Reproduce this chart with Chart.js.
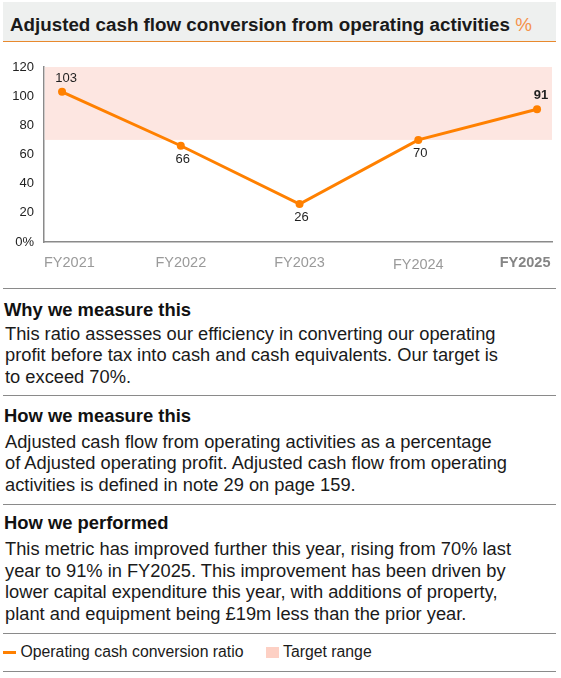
<!DOCTYPE html>
<html>
<head>
<meta charset="utf-8">
<script src="https://cdn.jsdelivr.net/npm/chart.js@4.4.1/dist/chart.umd.min.js"></script>
<style>
  html, body { margin: 0; padding: 0; background: #fff; }
  body { width: 561px; height: 678px; position: relative; overflow: hidden;
         font-family: "Liberation Sans", Arial, Helvetica, sans-serif; color: #1a1a1a; }
  .abs { position: absolute; }
  #titlebar { left: 3px; top: 2px; width: 553px; height: 39px; background: #eef0ef;
              border-bottom: 1.5px solid #e8892e; }
  #title { left: 10px; top: 15.4px; font-size: 18.8px; font-weight: bold; line-height: 20px; white-space: nowrap; }
  #title .pct { color: #f5924a; font-weight: normal; }
  .sep { left: 3px; width: 553px; height: 0; border-top: 1.2px solid #8a8a8a; }
  .head { left: 4px; font-size: 18.4px; font-weight: bold; line-height: 21.3px; white-space: nowrap; color: #111; }
  .bodytxt { left: 5px; font-size: 18.3px; line-height: 21.3px; white-space: nowrap; color: #1a1a1a; }
  #legend { left: 3px; top: 643px; font-size: 15.8px; line-height: 18px; white-space: nowrap; color: #1a1a1a; }
  .ldash { position: absolute; left: 0px; top: 8px; width: 13px; height: 3px; background: #ff8000; }
  .ltxt1 { position: absolute; left: 17.5px; top: 0; }
  .lsq { position: absolute; left: 263px; top: 3.5px; width: 13px; height: 11px; background: #fdd0c4; }
  .ltxt2 { position: absolute; left: 280px; top: 0; }
  #chartwrap { left: 0; top: 44px; width: 561px; height: 244px; }
</style>
</head>
<body>
<div id="titlebar" class="abs"></div>
<div id="title" class="abs">Adjusted cash flow conversion from operating activities <span class="pct">%</span></div>

<div id="chartwrap" class="abs"><canvas id="c" width="561" height="244"></canvas></div>

<div class="sep abs" style="top:288px"></div>
<div class="head abs" style="top:299px">Why we measure this</div>
<div class="bodytxt abs" style="top:323px">This ratio assesses our efficiency in converting our operating<br>profit before tax into cash and cash equivalents. Our target is<br>to exceed 70%.</div>

<div class="sep abs" style="top:395px"></div>
<div class="head abs" style="top:405px">How we measure this</div>
<div class="bodytxt abs" style="top:431px">Adjusted cash flow from operating activities as a percentage<br>of Adjusted operating profit. Adjusted cash flow from operating<br>activities is defined in note 29 on page 159.</div>

<div class="sep abs" style="top:504px"></div>
<div class="head abs" style="top:512px">How we performed</div>
<div class="bodytxt abs" style="top:538px;line-height:21.6px">This metric has improved further this year, rising from 70% last<br>year to 91% in FY2025. This improvement has been driven by<br>lower capital expenditure this year, with additions of property,<br>plant and equipment being £19m less than the prior year.</div>

<div class="sep abs" style="top:633px"></div>
<div id="legend" class="abs">
  <span class="ldash"></span><span class="ltxt1">Operating cash conversion ratio</span>
  <span class="lsq"></span><span class="ltxt2">Target range</span>
</div>
<div class="sep abs" style="top:671px"></div>

<script>
// ---- Data ----
const categories = ["FY2021", "FY2022", "FY2023", "FY2024", "FY2025"];
const conversionRatio = [103, 66, 26, 70, 91];
const targetRange = [70, 120];
const yTicks = [0, 20, 40, 60, 80, 100, 120];

const ORANGE = '#ff8000';
const FONT = '"Liberation Sans", Arial, Helvetica, sans-serif';

const targetBand = {
  id: 'targetBand',
  beforeDatasetsDraw(chart) {
    const {ctx, chartArea, scales} = chart;
    const yTop = scales.y.getPixelForValue(targetRange[1]);
    const yBot = scales.y.getPixelForValue(targetRange[0]);
    ctx.save();
    ctx.fillStyle = '#fde6e1';
    ctx.fillRect(chartArea.left + 0.8, yTop, chartArea.right - chartArea.left - 0.8, yBot - yTop);
    ctx.restore();
  }
};

const labelsPlugin = {
  id: 'labelsPlugin',
  afterDatasetsDraw(chart) {
    const {ctx, chartArea, scales} = chart;
    const meta = chart.getDatasetMeta(0);
    const last = conversionRatio.length - 1;
    ctx.save();
    // value labels
    meta.data.forEach((pt, i) => {
      const v = conversionRatio[i];
      const prev = i > 0 ? conversionRatio[i - 1] : -Infinity;
      const next = i < last ? conversionRatio[i + 1] : -Infinity;
      const above = v >= prev && v >= next;
      ctx.font = (i === last ? 'bold ' : '') + '13px ' + FONT;
      ctx.fillStyle = '#1f1f1f';
      ctx.textAlign = 'center';
      ctx.textBaseline = 'alphabetic';
      if (above) ctx.fillText(String(v), pt.x + 4, pt.y - 10);
      else ctx.fillText(String(v), pt.x + 2, pt.y + 17);
    });
    // x category labels
    const baseY = chartArea.bottom + 25;
    categories.forEach((c, i) => {
      const x = scales.x.getPixelForValue(i);
      if (i === last) {
        ctx.font = 'bold 14.5px ' + FONT;
        ctx.fillStyle = '#858585';
        ctx.textAlign = 'right';
        ctx.fillText(c, chartArea.right - 1.5, baseY);
      } else {
        ctx.font = '14.5px ' + FONT;
        ctx.fillStyle = '#9a9a9a';
        if (i === 0) { ctx.textAlign = 'left'; ctx.fillText(c, chartArea.left, baseY); }
        else { ctx.textAlign = 'center'; ctx.fillText(c, x, baseY + (i === 3 ? 2 : 0)); }
      }
    });
    ctx.restore();
  }
};

new Chart(document.getElementById('c'), {
  type: 'line',
  data: {
    datasets: [{
      label: 'Operating cash conversion ratio',
      data: conversionRatio.map((v, i) => ({x: i, y: v})),
      borderColor: ORANGE,
      backgroundColor: ORANGE,
      borderWidth: 3,
      pointRadius: 4,
      pointBackgroundColor: ORANGE,
      pointBorderWidth: 0,
      tension: 0,
      fill: false
    }]
  },
  options: {
    responsive: false,
    animation: false,
    layout: { padding: { top: 23, right: 9, bottom: 46, left: 0 } },
    plugins: { legend: { display: false }, tooltip: { enabled: false } },
    scales: {
      x: {
        type: 'linear',
        min: -0.152,
        max: 4.126,
        grid: { display: false, drawTicks: false },
        border: { display: true, color: '#8a8a8a', width: 1.5 },
        ticks: { display: false },
        afterFit(s) { s.height = 0; }
      },
      y: {
        min: 0,
        max: 120,
        afterBuildTicks(s) { s.ticks = yTicks.map(v => ({value: v})); },
        grid: { display: false, drawTicks: false },
        border: { display: true, color: '#8a8a8a', width: 1.5 },
        ticks: {
          padding: 10,
          color: '#222',
          font: { family: FONT, size: 13 },
          callback: v => v === 0 ? '0%' : String(v)
        },
        afterFit(s) { s.width = 44; }
      }
    }
  },
  plugins: [targetBand, labelsPlugin]
});
</script>
</body>
</html>
